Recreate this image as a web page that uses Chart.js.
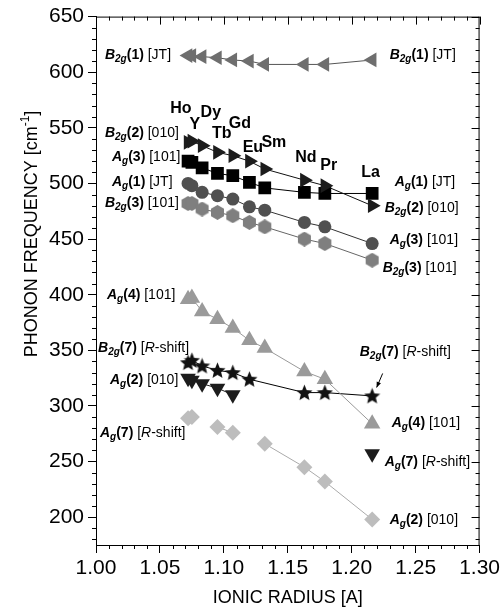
<!DOCTYPE html>
<html>
<head>
<meta charset="utf-8">
<script src="https://cdn.jsdelivr.net/npm/chart.js@4.4.1/dist/chart.umd.min.js"></script>
<style>
  html, body { margin: 0; padding: 0; background: #fff; }
  #wrap { width: 503px; height: 612px; position: relative; }
</style>
</head>
<body>
<div id="wrap"><canvas id="phononChart"></canvas></div>
<script>
// rare-earth ions and their ionic radii
const elements = ['Ho', 'Y', 'Dy', 'Tb', 'Gd', 'Eu', 'Sm', 'Nd', 'Pr', 'La'];
const ionicRadius = [1.072, 1.075, 1.083, 1.095, 1.107, 1.120, 1.132, 1.163, 1.179, 1.216];

// phonon frequencies [cm-1], one per element, null = no point
const b2g1 = [615, 615, 614, 613, 611, 610, 607, 607, 607, 611];
const b2g2 = [537, 538, 534, 528, 525, 520, 513, 503, 498, 480];
const agSquares = [520, 519, 514, 509, 507, 501, 496, 492, 491, 491];
const agCircles = [500, 498, 492, 489, 486, 479, 476, 465, 461, 446];
const b2g3 = [482, 482, 477, 474, 471, 465, 461, 450, 446, 431];
const ag4 = [396, 397, 385, 378, 370, 359, 352, 331, 324, 284];
const b2g7 = [339, 341, 336, 332, 330, 324, null, 312, 312, 309];
const agDown = [325, 323, 320, 316, 310, null, null, null, null, 257];
const agDiamonds = [289, 290, null, 281, 276, null, 266, 245, 232, 198];

const xTicks = [1.00, 1.05, 1.10, 1.15, 1.20, 1.25, 1.30];
const yTicks = [200, 250, 300, 350, 400, 450, 500, 550, 600, 650];

// mode labels: symbol, index, note, anchor (radius, frequency)
const modeLabels = [
  ['B2g', 1, 'JT', 1.0070, 615.0],
  ['B2g', 2, '010', 1.0070, 544.9],
  ['Ag', 3, '101', 1.0125, 523.3],
  ['Ag', 1, 'JT', 1.0125, 500.9],
  ['B2g', 3, '101', 1.0070, 482.0],
  ['Ag', 4, '101', 1.0086, 399.3],
  ['B2g', 7, 'R-shift', 1.0016, 351.7],
  ['Ag', 2, '010', 1.0109, 322.9],
  ['Ag', 7, 'R-shift', 1.0031, 275.3],
  ['B2g', 1, 'JT', 1.2297, 615.0],
  ['Ag', 1, 'JT', 1.2336, 500.9],
  ['B2g', 2, '010', 1.2258, 477.5],
  ['Ag', 3, '101', 1.2297, 448.7],
  ['B2g', 3, '101', 1.2242, 423.6],
  ['B2g', 7, 'R-shift', 1.2063, 348.1],
  ['Ag', 4, '101', 1.2313, 284.3],
  ['Ag', 7, 'R-shift', 1.2258, 249.3],
  ['Ag', 2, '010', 1.2297, 197.2]
];
// element name anchors (radius, frequency), same order as elements
const nameAnchors = [
  [1.0664, 567.3], [1.0773, 553.0], [1.0898, 563.7], [1.0984, 544.9], [1.1125, 553.9],
  [1.1227, 532.3], [1.1391, 536.8], [1.1641, 523.3], [1.1820, 516.1], [1.2148, 509.8]
];

const FAM = '"Liberation Sans", Arial, sans-serif';

// filled marker shapes Chart.js does not have
function makeMarker(size, color, path) {
  const c = document.createElement('canvas');
  c.width = size;
  c.height = size;
  const g = c.getContext('2d');
  g.fillStyle = color;
  g.beginPath();
  path(g, size / 2);
  g.fill();
  return c;
}
function starPath(g, r) {
  for (let i = 0; i < 10; i++) {
    const rad = i % 2 === 0 ? r : r * 0.45;
    const a = -Math.PI / 2 + i * Math.PI / 5;
    g.lineTo(r + rad * Math.cos(a), r + 0.6 + rad * Math.sin(a));
  }
  g.closePath();
}
function hexPath(g, r) {
  for (let i = 0; i < 6; i++) {
    const a = -Math.PI / 2 + i * Math.PI / 3;
    g.lineTo(r + r * Math.cos(a), r + r * Math.sin(a));
  }
  g.closePath();
}

const pts = (vals) => ionicRadius.map((r, i) => ({ x: r, y: vals[i] }));

function series(values, style, rot, radius, color, line, spanGaps) {
  return {
    data: pts(values),
    showLine: true,
    spanGaps: spanGaps,
    borderColor: line,
    borderWidth: 1,
    pointStyle: style,
    pointRotation: rot,
    pointRadius: radius,
    pointBackgroundColor: color,
    pointBorderColor: color,
    pointBorderWidth: 0
  };
}

const datasets = [
  series(b2g1, 'triangle', -90, 8.5, '#6e6e6e', '#555555', true),
  series(b2g2, 'triangle', 90, 8.5, '#1c1c1c', '#111111', true),
  series(agSquares, 'rect', 0, 9, '#000000', '#000000', true),
  series(agCircles, 'circle', 0, 6.5, '#505050', '#333333', true),
  series(b2g3, makeMarker(15, '#7f7f7f', hexPath), 0, 7, '#7f7f7f', '#666666', true),
  series(ag4, 'triangle', 0, 9.5, '#9a9a9a', '#999999', true),
  series(b2g7, makeMarker(17, '#111111', starPath), 0, 8, '#111111', '#000000', true),
  series(agDown, 'triangle', 180, 9, '#1c1c1c', '#1c1c1c', false),
  series(agDiamonds, 'rectRot', 0, 8, '#bdbdbd', '#aaaaaa', false)
];

// rich text: list of {t, font, dy}
function drawRich(ctx, segs, x, y, align) {
  let w = 0;
  segs.forEach((s) => { ctx.font = s.font; s.w = ctx.measureText(s.t).width; w += s.w; });
  let cx = align === 'center' ? x - w / 2 : x;
  segs.forEach((s) => { ctx.font = s.font; ctx.fillText(s.t, cx, y + (s.dy || 0)); cx += s.w; });
}

function modeSegments(sym, n, note) {
  const size = 14, sub = 10;
  const segs = [
    { t: sym[0], font: `italic bold ${size}px ${FAM}` },
    { t: sym.slice(1), font: `italic bold ${sub}px ${FAM}`, dy: 4 },
    { t: '(' + n + ')', font: `bold ${size}px ${FAM}` },
    { t: ' [', font: `${size}px ${FAM}` }
  ];
  if (note === 'R-shift') {
    segs.push({ t: 'R', font: `italic ${size}px ${FAM}` });
    segs.push({ t: '-shift]', font: `${size}px ${FAM}` });
  } else {
    segs.push({ t: note + ']', font: `${size}px ${FAM}` });
  }
  return segs;
}

const decorPlugin = {
  id: 'decor',
  afterDraw(chart) {
    const { ctx, chartArea: a } = chart;
    const x = chart.scales.x, y = chart.scales.y;
    ctx.save();
    ctx.strokeStyle = '#000';
    ctx.lineWidth = 1;
    ctx.beginPath();
    // top and right frame
    ctx.moveTo(a.left, a.top + 0.5);
    ctx.lineTo(a.right, a.top + 0.5);
    ctx.moveTo(a.right - 0.5, a.top);
    ctx.lineTo(a.right - 0.5, a.bottom);
    // x minor ticks (bottom out) and top ticks (in)
    for (let k = 0; k <= 30; k++) {
      const px = Math.round(x.getPixelForValue(1 + k / 100)) + 0.5;
      const major = k % 5 === 0;
      if (!major) {
        ctx.moveTo(px, a.bottom);
        ctx.lineTo(px, a.bottom + 4);
      }
      ctx.moveTo(px, a.top);
      ctx.lineTo(px, a.top + (major ? 8 : 4));
    }
    // y minor ticks (left out) and right ticks (in)
    for (let k = 18; k <= 65; k++) {
      const py = Math.round(y.getPixelForValue(k * 10)) + 0.5;
      const major = (k * 10) % 50 === 0;
      if (!major) {
        ctx.moveTo(a.left - 4, py);
        ctx.lineTo(a.left, py);
      }
      ctx.moveTo(a.right, py);
      ctx.lineTo(a.right - (major ? 8 : 4), py);
    }
    ctx.stroke();

    ctx.fillStyle = '#000';
    ctx.textBaseline = 'middle';

    // mode labels
    modeLabels.forEach((m) => {
      drawRich(ctx, modeSegments(m[0], m[1], m[2]),
        x.getPixelForValue(m[3]), y.getPixelForValue(m[4]), 'left');
    });

    // element names
    ctx.font = `bold 16px ${FAM}`;
    ctx.textAlign = 'center';
    elements.forEach((el, i) => {
      ctx.fillText(el, x.getPixelForValue(nameAnchors[i][0]), y.getPixelForValue(nameAnchors[i][1]));
    });
    ctx.textAlign = 'left';

    // arrow to the La B2g(7) point
    const x0 = x.getPixelForValue(1.2242), y0 = y.getPixelForValue(329.2);
    const x1 = x.getPixelForValue(1.2195), y1 = y.getPixelForValue(316.6);
    const ang = Math.atan2(y1 - y0, x1 - x0);
    ctx.beginPath();
    ctx.moveTo(x0, y0);
    ctx.lineTo(x1, y1);
    ctx.stroke();
    ctx.beginPath();
    ctx.moveTo(x1, y1);
    ctx.lineTo(x1 - 6 * Math.cos(ang - 0.4), y1 - 6 * Math.sin(ang - 0.4));
    ctx.lineTo(x1 - 6 * Math.cos(ang + 0.4), y1 - 6 * Math.sin(ang + 0.4));
    ctx.closePath();
    ctx.fill();

    // axis titles
    drawRich(ctx, [{ t: 'IONIC RADIUS [A]', font: `18px ${FAM}` }], (a.left + a.right) / 2, 598, 'center');
    ctx.translate(32, 234);
    ctx.rotate(-Math.PI / 2);
    drawRich(ctx, [
      { t: 'PHONON FREQUENCY [cm', font: `18px ${FAM}` },
      { t: '-1', font: `12px ${FAM}`, dy: -6 },
      { t: ']', font: `18px ${FAM}` }
    ], 0, 0, 'center');
    ctx.restore();
  }
};

new Chart(document.getElementById('phononChart'), {
  type: 'scatter',
  data: { datasets: datasets },
  options: {
    responsive: true,
    maintainAspectRatio: false,
    animation: false,
    layout: { padding: { top: 16, right: 23, bottom: 0, left: 0 } },
    plugins: { legend: { display: false }, tooltip: { enabled: false } },
    scales: {
      x: {
        type: 'linear',
        min: 1.0,
        max: 1.3,
        afterBuildTicks: (s) => { s.ticks = xTicks.map((v) => ({ value: v })); },
        afterFit: (s) => { s.height = 67; },
        ticks: {
          callback: (v) => Number(v).toFixed(2),
          font: { family: FAM, size: 21 },
          color: '#000',
          padding: 3,
          maxRotation: 0,
          autoSkip: false
        },
        grid: { drawOnChartArea: false, drawTicks: true, tickLength: 8, color: '#000' },
        border: { display: true, color: '#000', width: 1 }
      },
      y: {
        type: 'linear',
        min: 175,
        max: 650,
        afterBuildTicks: (s) => { s.ticks = yTicks.map((v) => ({ value: v })); },
        afterFit: (s) => { s.width = 96; },
        ticks: {
          font: { family: FAM, size: 21 },
          color: '#000',
          padding: 4,
          autoSkip: false
        },
        grid: { drawOnChartArea: false, drawTicks: true, tickLength: 8, color: '#000' },
        border: { display: true, color: '#000', width: 1 }
      }
    }
  },
  plugins: [decorPlugin]
});
</script>
</body>
</html>
